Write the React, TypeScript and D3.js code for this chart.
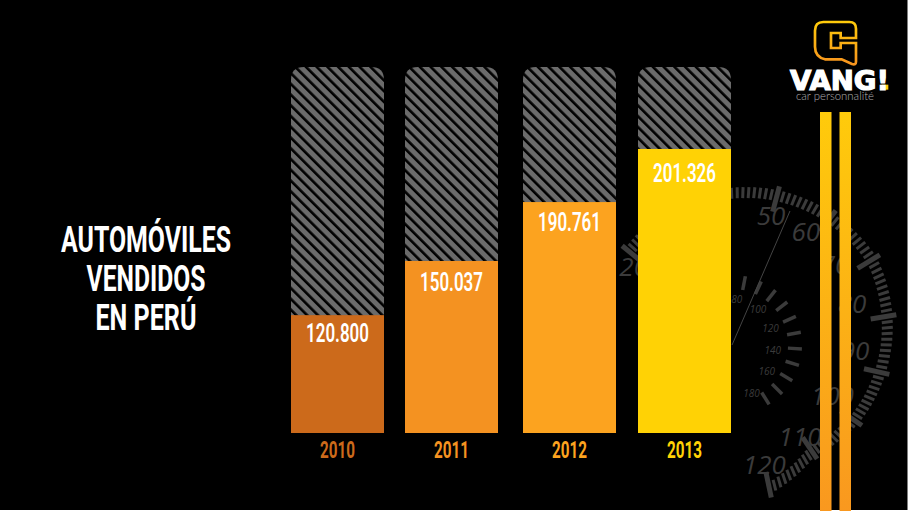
import * as d3 from "d3";
import { useEffect, useRef } from "react";

const years = ["2010", "2011", "2012", "2013"];
const unitsSold = [120800, 150037, 190761, 201326];
// height of the coloured part as % of the hatched column, as drawn in the picture
// (the original infographic is not to scale with the numbers)
const fillShare = [32.2, 47, 63.1, 77.6];
const barColors = ["#cc6a1b", "#f49221", "#fca31f", "#ffd205"];

const titleLines = ["AUTOMÓVILES", "VENDIDOS", "EN PERÚ"];
const titleWidths = [170, 119, 101];

const speedLabels = [20, 50, 60, 70, 80, 90, 100, 110, 120];
const rpmLabels = [80, 100, 120, 140, 160, 180];

const W = 908;
const H = 511;
const GAUGE = "#3b3b3b";

const esLocale = d3.formatLocale({ decimal: ",", thousands: ".", grouping: [3], currency: ["", ""] });
const fmt = esLocale.format(",d");

const polar = (cx: number, cy: number, deg: number, r: number) => {
  const a = (deg * Math.PI) / 180;
  return [cx + r * Math.sin(a), cy - r * Math.cos(a)];
};

function App() {
  const ref = useRef<SVGSVGElement>(null);

  useEffect(() => {
    const svg = d3.select(ref.current!);
    svg.selectAll("*").remove();

    const defs = svg.append("defs");
    const hatch = defs.append("pattern")
      .attr("id", "hatch")
      .attr("patternUnits", "userSpaceOnUse")
      .attr("width", 7.6)
      .attr("height", 7.6)
      .attr("patternTransform", "rotate(-45)");
    hatch.append("rect").attr("width", 7.6).attr("height", 7.6).attr("fill", "#6b6b6b");
    hatch.append("rect").attr("width", 2.6).attr("height", 7.6).attr("fill", "#000");

    const stripeGrad = defs.append("linearGradient").attr("id", "stripe").attr("x1", 0).attr("x2", 0).attr("y1", 0).attr("y2", 1);
    stripeGrad.append("stop").attr("offset", "0%").attr("stop-color", "#ffcb0b");
    stripeGrad.append("stop").attr("offset", "100%").attr("stop-color", "#f9981f");

    const logoGrad = defs.append("linearGradient").attr("id", "logo").attr("x1", 0).attr("x2", 0).attr("y1", 0).attr("y2", 1);
    logoGrad.append("stop").attr("offset", "0%").attr("stop-color", "#ffcb0b");
    logoGrad.append("stop").attr("offset", "100%").attr("stop-color", "#f7941e");

    svg.append("rect").attr("width", W - 0.5).attr("height", H - 1).attr("fill", "#000");

    // speedometer behind the bars
    const gauge = svg.append("g");
    const cx = 738;
    const cy = 341;
    const speedAngle = d3.scaleLinear().domain([50, 120]).range([15, 168]);
    // the dial is not a true circle in the picture
    const ring = d3.scaleLinear().domain([20, 50, 70, 90, 100, 110, 120]).range([150, 160, 166, 155, 150, 142, 160]);
    const labelAngle = d3.scaleLinear().domain([20, 50, 60, 70, 80, 90, 100, 110, 120]).range([-54.6, 14.8, 32, 52, 72, 95, 120, 147, 168]);
    const labelRadius = d3.scaleLinear().domain([20, 50, 60, 70, 80, 90, 100, 110, 120]).range([128, 129, 128, 123, 120, 117.5, 109, 114, 127]);

    const tickIn = (d: number) => ring(d) - (d % 10 === 0 ? 26 : 15);
    const tickOut = (d: number) => ring(d) - (d % 10 === 0 ? 0 : 4);

    gauge.append("g")
      .selectAll("line")
      .data(d3.range(20, 121))
      .join("line")
      .attr("x1", d => polar(cx, cy, speedAngle(d), tickIn(d))[0])
      .attr("y1", d => polar(cx, cy, speedAngle(d), tickIn(d))[1])
      .attr("x2", d => polar(cx, cy, speedAngle(d), tickOut(d))[0])
      .attr("y2", d => polar(cx, cy, speedAngle(d), tickOut(d))[1])
      .attr("stroke", GAUGE)
      .attr("stroke-width", d => (d % 10 === 0 ? 5 : 3));

    gauge.append("g")
      .selectAll("text")
      .data(speedLabels)
      .join("text")
      .attr("x", d => polar(cx, cy, labelAngle(d), labelRadius(d))[0])
      .attr("y", d => polar(cx, cy, labelAngle(d), labelRadius(d))[1] + 9)
      .attr("text-anchor", "middle")
      .attr("font-family", "'Open Sans', sans-serif")
      .attr("font-style", "italic")
      .attr("font-size", 26)
      .attr("fill", GAUGE)
      .text(d => d);

    const rcx = 732;
    const rcy = 345;
    const rpmTick = d3.scaleLinear().domain([80, 180]).range([11, 148]);
    const rpmText = d3.scaleLinear().domain([80, 180]).range([6, 158]);
    const rpmRadius = d3.scaleLinear().domain([80, 100, 120, 140, 160, 180]).range([46, 44, 42, 41, 44, 52]);

    gauge.append("g")
      .selectAll("line")
      .data(d3.range(80, 181, 10))
      .join("line")
      .attr("x1", d => polar(rcx, rcy, rpmTick(d), 56)[0])
      .attr("y1", d => polar(rcx, rcy, rpmTick(d), 56)[1])
      .attr("x2", d => polar(rcx, rcy, rpmTick(d), 70)[0])
      .attr("y2", d => polar(rcx, rcy, rpmTick(d), 70)[1])
      .attr("stroke", GAUGE)
      .attr("stroke-width", 3.5);

    gauge.append("g")
      .selectAll("text")
      .data(rpmLabels)
      .join("text")
      .attr("x", d => polar(rcx, rcy, rpmText(d), rpmRadius(d))[0])
      .attr("y", d => polar(rcx, rcy, rpmText(d), rpmRadius(d))[1] + 3.5)
      .attr("text-anchor", "middle")
      .attr("font-family", "'Open Sans', sans-serif")
      .attr("font-style", "italic")
      .attr("font-size", 10)
      .attr("fill", GAUGE)
      .text(d => d);

    const tip = polar(rcx, rcy, 23.4, 146);
    gauge.append("line")
      .attr("x1", rcx)
      .attr("y1", rcy)
      .attr("x2", tip[0])
      .attr("y2", tip[1])
      .attr("stroke", "#444")
      .attr("stroke-width", 1);

    // columns, the gaps between them are not even in the picture
    const x = d3.scaleOrdinal<string, number>().domain(years).range([291, 405, 523, 638]);
    const barW = 93;
    const y = d3.scaleLinear().domain([0, 100]).range([433, 67]);
    const valueDrop = d3.scaleOrdinal<string, number>().domain(years).range([27, 30, 29, 33]);
    const rows = years.map((year, i) => ({ year, sold: unitsSold[i], share: fillShare[i], color: barColors[i] }));

    const col = svg.append("g")
      .selectAll("g")
      .data(rows)
      .join("g")
      .attr("transform", d => `translate(${x(d.year)},0)`);

    col.append("path")
      .attr("fill", "url(#hatch)")
      .attr("d", () => {
        const r = 13;
        const p = d3.path();
        p.moveTo(0, y(0));
        p.lineTo(0, y(100) + r);
        p.quadraticCurveTo(0, y(100), r, y(100));
        p.lineTo(barW - r, y(100));
        p.quadraticCurveTo(barW, y(100), barW, y(100) + r);
        p.lineTo(barW, y(0));
        p.closePath();
        return p.toString();
      });

    col.append("rect")
      .attr("y", d => y(d.share))
      .attr("width", barW)
      .attr("height", d => y(0) - y(d.share))
      .attr("fill", d => d.color);

    col.append("text")
      .attr("x", barW / 2)
      .attr("y", d => y(d.share) + valueDrop(d.year))
      .attr("text-anchor", "middle")
      .attr("font-family", "Roboto, sans-serif")
      .attr("font-weight", 600)
      .attr("font-size", 25)
      .attr("textLength", 63)
      .attr("lengthAdjust", "spacingAndGlyphs")
      .attr("fill", "#fff")
      .text(d => fmt(d.sold));

    col.append("text")
      .attr("x", barW / 2)
      .attr("y", 458)
      .attr("text-anchor", "middle")
      .attr("font-family", "Roboto, sans-serif")
      .attr("font-weight", 700)
      .attr("font-size", 23.5)
      .attr("textLength", 35)
      .attr("lengthAdjust", "spacingAndGlyphs")
      .attr("fill", d => d.color)
      .text(d => d.year);

    // title
    svg.append("g")
      .selectAll("text")
      .data(titleLines)
      .join("text")
      .attr("x", 146)
      .attr("y", (_, i) => 252 + i * 39)
      .attr("text-anchor", "middle")
      .attr("font-family", "Roboto, sans-serif")
      .attr("font-weight", 700)
      .attr("font-size", 37)
      .attr("textLength", (_, i) => titleWidths[i])
      .attr("lengthAdjust", "spacingAndGlyphs")
      .attr("fill", "#fff")
      .text(d => d);

    // stripes on the right
    svg.append("rect").attr("x", 820).attr("y", 112).attr("width", 11.5).attr("height", H - 112).attr("fill", "url(#stripe)");
    svg.append("rect").attr("x", 839.5).attr("y", 112).attr("width", 11.5).attr("height", H - 112).attr("fill", "url(#stripe)");

    // logo
    const logo = svg.append("g").attr("transform", "translate(770,10) scale(0.3333)");
    logo.append("path")
      .attr("d", "M160 36 L238 36 Q258 36 258 56 L258 84 L212 84 L212 69 L183 69 L183 114 L212 114 L212 99 L258 99 L258 155 Q258 166 246 162 L215 148 L165 148 Q135 140 135 110 L135 62 Q135 36 160 36 Z")
      .attr("fill", "none")
      .attr("stroke", "url(#logo)")
      .attr("stroke-width", 8);

    svg.append("text")
      .attr("x", 790)
      .attr("y", 90)
      .attr("font-family", "'DejaVu Sans', sans-serif")
      .attr("font-weight", 700)
      .attr("font-size", 27)
      .attr("textLength", 99)
      .attr("lengthAdjust", "spacingAndGlyphs")
      .attr("stroke", "#fff")
      .attr("stroke-width", 1.2)
      .attr("fill", "#fff")
      .text("VANG!");
    logo.append("rect").attr("x", 335).attr("y", 224).attr("width", 20).attr("height", 15).attr("fill", "#ffcb0b");

    svg.append("text")
      .attr("x", 796)
      .attr("y", 100)
      .attr("font-family", "Lato, sans-serif")
      .attr("font-weight", 300)
      .attr("font-size", 12)
      .attr("textLength", 78)
      .attr("lengthAdjust", "spacingAndGlyphs")
      .attr("fill", "#b0b0b0")
      .text("car personnalité");
  }, []);

  return <svg ref={ref} width={W} height={H} style={{ position: "absolute", left: 0, top: 0 }} />;
}

export default App;
